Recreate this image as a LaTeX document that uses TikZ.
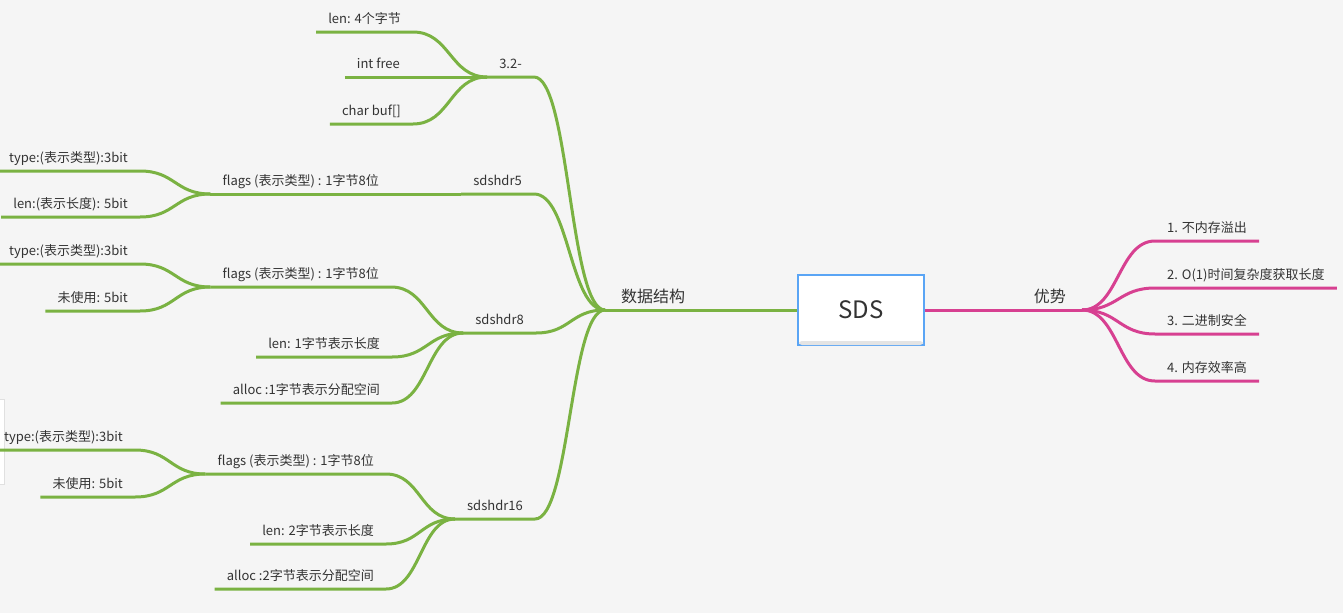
\documentclass[tikz,border=0pt]{standalone}
\usepackage{fontspec}
\setmainfont{Noto Sans CJK SC}
\usetikzlibrary{calc}
\definecolor{bgcol}{HTML}{F5F5F5}
\definecolor{ink}{HTML}{333333}
\definecolor{leafgreen}{HTML}{7AB242}
\definecolor{plusred}{HTML}{D74091}
\definecolor{boxblue}{HTML}{5AA5F5}
\definecolor{panelgray}{HTML}{E0E0E0}
\definecolor{boxshade}{HTML}{E4E4E4}

\begin{document}
\begin{tikzpicture}[
   x=1pt, y=-1pt,
   leaf/.style={text=ink, font=\fontsize{13}{15}\selectfont, inner xsep=12pt, inner ysep=5pt, text height=9pt, text depth=3pt},
   topic/.style={text=ink, font=\fontsize{16}{19}\selectfont, inner xsep=16pt, inner ysep=4pt, text height=12pt, text depth=3pt},
   root/.style={draw=boxblue, line width=2pt, fill=white, text=ink, font=\fontsize{24}{28}\selectfont, minimum width=126pt, minimum height=70pt},
   gline/.style={draw=leafgreen, line width=3pt, line join=round},
   pline/.style={draw=plusred, line width=3pt, line join=round},
   branch/.style={to path={let \p1=(\tikztostart), \p2=(\tikztotarget) in
      .. controls ({(\x1+\x2)/2},\y1) and ({(\x1+\x2)/2},\y2) .. (\tikztotarget)}}
]
\fill[bgcol] (0,0) rectangle (1343,613);
\useasboundingbox (0,0) rectangle (1343,613);
\filldraw[fill=white, draw=panelgray] (-6,399) rectangle (4,484);

% Nodes
\node[root] (sds) at (861,310) {SDS};
\fill[boxshade, rounded corners=3pt] ([xshift=2pt,yshift=1pt]sds.south west) rectangle ([xshift=-2pt,yshift=5pt]sds.south east);
\node[topic, anchor=south west] (data) at (605,310) {数据结构};
\node[topic, anchor=south east] (gain) at (1082,310) {优势};

\node[leaf, anchor=south east] (v32) at (534,77) {3.2-};
\node[leaf, anchor=south east] (len4) at (413,32) {len: 4个字节};
\node[leaf, anchor=south east] (free) at (412,77) {int free};
\node[leaf, anchor=south east] (buf) at (413,124) {char buf[]};

\node[leaf, anchor=south east] (h5) at (534,194) {sdshdr5};
\node[leaf, anchor=south east] (flags5) at (391,194) {flags (表示类型) : 1字节8位};
\node[leaf, anchor=south east] (type5) at (140,171) {type:(表示类型):3bit};
\node[leaf, anchor=south east] (len5) at (140,217) {len:(表示长度): 5bit};

\node[leaf, anchor=south east] (h8) at (536,333) {sdshdr8};
\node[leaf, anchor=south east] (flags8) at (391,287) {flags (表示类型) : 1字节8位};
\node[leaf, anchor=south east] (type8) at (140,264) {type:(表示类型):3bit};
\node[leaf, anchor=south east] (free8) at (140,311) {未使用: 5bit};
\node[leaf, anchor=south east] (len8) at (392,357) {len: 1字节表示长度};
\node[leaf, anchor=south east] (alloc8) at (392,403) {alloc :1字节表示分配空间};

\node[leaf, anchor=south east] (h16) at (535,519) {sdshdr16};
\node[leaf, anchor=south east] (flags16) at (386,474) {flags (表示类型) : 1字节8位};
\node[leaf, anchor=south east] (type16) at (135,450) {type:(表示类型):3bit};
\node[leaf, anchor=south east] (free16) at (135,497) {未使用: 5bit};
\node[leaf, anchor=south east] (len16) at (386,544) {len: 2字节表示长度};
\node[leaf, anchor=south east] (alloc16) at (386,589) {alloc :2字节表示分配空间};

\node[leaf, anchor=south west] (adv1) at (1155,241) {1. 不内存溢出};
\node[leaf, anchor=south west] (adv2) at (1155,288) {2. O(1)时间复杂度获取长度};
\node[leaf, anchor=south west] (adv3) at (1155,334) {3. 二进制安全};
\node[leaf, anchor=south west] (adv4) at (1155,381) {4. 内存效率高};

% Edges
\draw[gline] (sds.west) -- (data.south west);
\draw[pline] (sds.east) -- (gain.south east);

\draw[gline] (len4.south west) -- (len4.south east) to[branch] (v32.south west);
\draw[gline] (free.south west) -- (free.south east) to[branch] (v32.south west);
\draw[gline] (buf.south west) -- (buf.south east) to[branch] (v32.south west);
\draw[gline] (v32.south west) -- (v32.south east) to[branch] (data.south west);

\draw[gline] (type5.south west) -- (type5.south east) to[branch] (flags5.south west);
\draw[gline] (len5.south west) -- (len5.south east) to[branch] (flags5.south west);
\draw[gline] (flags5.south west) -- (flags5.south east) to[branch] (h5.south west);
\draw[gline] (h5.south west) -- (h5.south east) to[branch] (data.south west);

\draw[gline] (type8.south west) -- (type8.south east) to[branch] (flags8.south west);
\draw[gline] (free8.south west) -- (free8.south east) to[branch] (flags8.south west);
\draw[gline] (flags8.south west) -- (flags8.south east) to[branch] (h8.south west);
\draw[gline] (len8.south west) -- (len8.south east) to[branch] (h8.south west);
\draw[gline] (alloc8.south west) -- (alloc8.south east) to[branch] (h8.south west);
\draw[gline] (h8.south west) -- (h8.south east) to[branch] (data.south west);

\draw[gline] (type16.south west) -- (type16.south east) to[branch] (flags16.south west);
\draw[gline] (free16.south west) -- (free16.south east) to[branch] (flags16.south west);
\draw[gline] (flags16.south west) -- (flags16.south east) to[branch] (h16.south west);
\draw[gline] (len16.south west) -- (len16.south east) to[branch] (h16.south west);
\draw[gline] (alloc16.south west) -- (alloc16.south east) to[branch] (h16.south west);
\draw[gline] (h16.south west) -- (h16.south east) to[branch] (data.south west);

\draw[pline] (gain.south east) to[branch] (adv1.south west) -- (adv1.south east);
\draw[pline] (gain.south east) to[branch] (adv2.south west) -- (adv2.south east);
\draw[pline] (gain.south east) to[branch] (adv3.south west) -- (adv3.south east);
\draw[pline] (gain.south east) to[branch] (adv4.south west) -- (adv4.south east);

\end{tikzpicture}
\end{document}
